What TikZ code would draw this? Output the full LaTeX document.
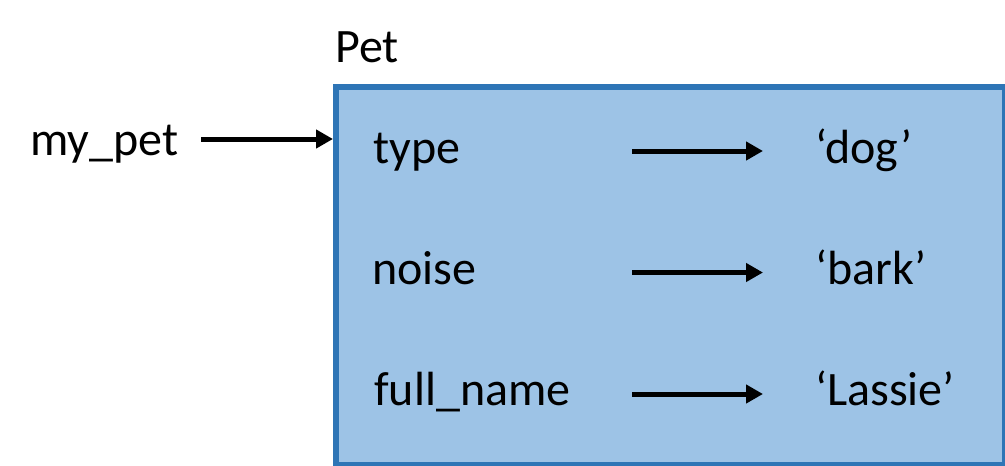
\documentclass[tikz,border=0pt]{standalone}
\usepackage{fontspec}
\setmainfont{Carlito}
\usepackage{xcolor}
\usepackage{tikz}
\usetikzlibrary{
  arrows.meta,
  positioning,
  calc}
\definecolor{boxfill}{HTML}{9DC3E6}
\definecolor{boxline}{HTML}{2E75B6}
\tikzset{every picture/.style={font issue=\fontsize{36}{42}},
         font issue/.style={execute at begin picture={#1\selectfont}}
        }

\begin{document}
\begin{tikzpicture}[x=0.75pt, y=-0.75pt,
    objbox/.style={draw=boxline, fill=boxfill, line width=4.5pt, anchor=north west,
                   minimum width=501.75pt, minimum height=283.5pt, inner sep=0pt},
    txt/.style={anchor=base west, inner sep=0pt},
    ptr/.style={line width=3.75pt, -{Triangle[length=12.75pt, width=13.5pt]}}]
\useasboundingbox (0,0) rectangle (1005,465);
\node[objbox] (pet) at (333,84) {};
\node[txt] (petname) at (335,62) {Pet};
\node[txt] (mypet) at (30,155) {my\_pet};
\node[txt] (type) at (373,163) {type};
\node[txt] (noise) at (372,284) {noise};
\node[txt] (fullname) at (374,405) {full\_name};
\node[txt] (dog) at (815,163) {‘dog’};
\node[txt] (bark) at (815,284) {‘bark’};
\node[txt] (lassie) at (815,405) {‘Lassie’};
% arrow ends
\coordinate (start) at (201,139);
\coordinate (tail1) at (632,151);
\coordinate (tail2) at (632,272.5);
\coordinate (tail3) at (632,394);
\coordinate (headx) at (763,0);
\draw[ptr] (start) -- (start -| pet.west);
\draw[ptr] (tail1) -- (tail1 -| headx);
\draw[ptr] (tail2) -- (tail2 -| headx);
\draw[ptr] (tail3) -- (tail3 -| headx);
\end{tikzpicture}
\end{document}
